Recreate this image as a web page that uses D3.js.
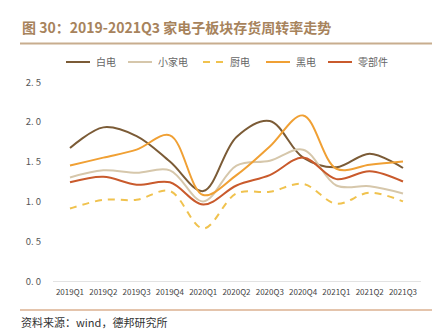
<!DOCTYPE html>
<html>
<head>
<meta charset="utf-8">
<script src="https://cdn.jsdelivr.net/npm/d3@7"></script>
<style>
  body { margin: 0; background: #fff; }
  text { font-family: "Noto Sans CJK SC", "Liberation Sans", sans-serif; }
</style>
</head>
<body>
<div id="chart"></div>
<script>
// quarters on the x axis
const quarters = ["2019Q1", "2019Q2", "2019Q3", "2019Q4", "2020Q1", "2020Q2",
  "2020Q3", "2020Q4", "2021Q1", "2021Q2", "2021Q3"];

// inventory turnover
const baiDian = [1.67, 1.93, 1.82, 1.50, 1.13, 1.81, 2.01, 1.55, 1.43, 1.60, 1.42];
const xiaoJiaDian = [1.30, 1.39, 1.36, 1.39, 1.00, 1.45, 1.51, 1.65, 1.20, 1.19, 1.10];
const chuDian = [0.91, 1.02, 1.02, 1.13, 0.66, 1.10, 1.12, 1.22, 0.97, 1.11, 1.00];
const heiDian = [1.45, 1.55, 1.65, 1.83, 1.08, 1.33, 1.69, 2.08, 1.41, 1.46, 1.50];
const lingBuJian = [1.24, 1.31, 1.21, 1.24, 0.96, 1.20, 1.33, 1.55, 1.28, 1.38, 1.25];

const yTicks = [0, 0.5, 1.0, 1.5, 2.0, 2.5];

const series = [
  { name: "白电", values: baiDian, color: "#7b5b36", dash: null },
  { name: "小家电", values: xiaoJiaDian, color: "#d6c7ab", dash: null },
  { name: "厨电", values: chuDian, color: "#f0c24e", dash: "7,6" },
  { name: "黑电", values: heiDian, color: "#f0a034", dash: null },
  { name: "零部件", values: lingBuJian, color: "#c95a2c", dash: null }
];

const width = 446, height = 330;
const svg = d3.select("#chart").append("svg")
  .attr("width", width)
  .attr("height", height);

// title + rules
svg.append("text")
  .attr("x", 22).attr("y", 33)
  .attr("font-size", 14).attr("font-weight", "bold")
  .attr("fill", "#a7835c")
  .text("图 30：2019-2021Q3 家电子板块存货周转率走势");

svg.append("line")
  .attr("x1", 20).attr("x2", 432).attr("y1", 43.5).attr("y2", 43.5)
  .attr("stroke", "#c8ad8e").attr("stroke-width", 2);

svg.append("line")
  .attr("x1", 20).attr("x2", 432).attr("y1", 310).attr("y2", 310)
  .attr("stroke", "#c98a5a").attr("stroke-width", 1.2);

svg.append("text")
  .attr("x", 21).attr("y", 327)
  .attr("font-size", 11).attr("fill", "#333")
  .text("资料来源：wind，德邦研究所");

// scales
const x = d3.scalePoint()
  .domain(quarters)
  .range([70, 403]);

const y = d3.scaleLinear()
  .domain([0, 2.5])
  .range([281, 82]);

// y tick labels
svg.append("g")
  .selectAll("text")
  .data(yTicks)
  .join("text")
  .attr("x", 41)
  .attr("y", d => y(d) + 3.5)
  .attr("text-anchor", "end")
  .attr("font-size", 9.5)
  .attr("fill", "#555")
  .attr("font-family", "Liberation Sans, sans-serif")
  .text(d => d3.format(".1f")(d).replace(".", ". "));

// baseline
svg.append("line")
  .attr("x1", 53).attr("x2", 421)
  .attr("y1", y(0) + 0.5).attr("y2", y(0) + 0.5)
  .attr("stroke", "#e3e3e3");

// x labels
svg.append("g")
  .selectAll("text")
  .data(quarters)
  .join("text")
  .attr("x", d => x(d))
  .attr("y", y(0) + 14)
  .attr("text-anchor", "middle")
  .attr("font-size", 8)
  .attr("fill", "#444")
  .attr("font-family", "Liberation Sans, sans-serif")
  .text(d => d);

// lines
const line = d3.line()
  .x((d, i) => x(quarters[i]))
  .y(d => y(d))
  .curve(d3.curveCatmullRom.alpha(0.5));

svg.append("g")
  .selectAll("path")
  .data(series)
  .join("path")
  .attr("d", d => line(d.values))
  .attr("fill", "none")
  .attr("stroke", d => d.color)
  .attr("stroke-width", 2)
  .attr("stroke-dasharray", d => d.dash);

// legend
const legendX = [66, 128, 203, 266, 328];
const legend = svg.append("g")
  .selectAll("g")
  .data(series)
  .join("g")
  .attr("transform", (d, i) => "translate(" + legendX[i] + ",62)");

legend.append("line")
  .attr("x1", 0).attr("x2", d => d.dash ? 20 : 24)
  .attr("stroke", d => d.color)
  .attr("stroke-width", 2)
  .attr("stroke-dasharray", d => d.dash ? "7,6" : null);

legend.append("text")
  .attr("x", d => d.dash ? 27 : 30)
  .attr("y", 4)
  .attr("font-size", 10)
  .attr("fill", "#666")
  .text(d => d.name);
</script>
</body>
</html>
